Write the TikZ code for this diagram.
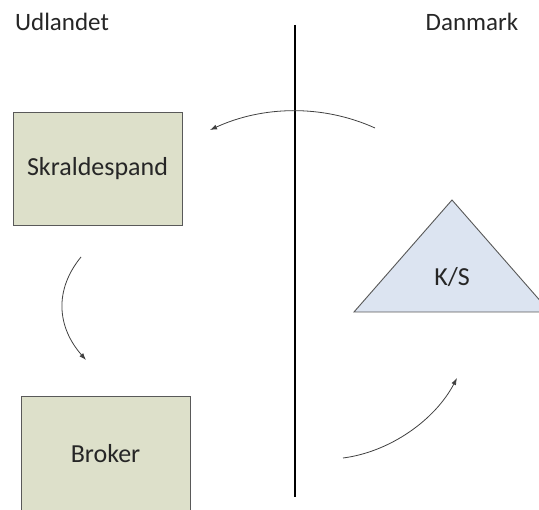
\documentclass[tikz,border=0pt]{standalone}
\usepackage{fontspec}
\setmainfont{Carlito}
\usetikzlibrary{arrows.meta}
\begin{document}
\begin{tikzpicture}[x=1pt,y=-1pt,
  every node/.style={font=\fontsize{26}{30}\selectfont, text=black!85},
  party/.style={draw=black!65, line width=0.9pt, fill=boxfill, minimum width=169pt, inner sep=0pt},
  flow/.style={draw=black!75, line width=0.8pt, -{Latex[length=7pt,width=5pt]}},
  side/.style={font=\fontsize{25}{30}\selectfont}]
\definecolor{boxfill}{HTML}{DDE0CA}
\definecolor{trifill}{HTML}{DCE4F1}
\useasboundingbox (0,0) rectangle (539,510);
\clip (0,0) rectangle (539,510);

% country headings
\node[side] (udl) at (62,22) {Udlandet};
\node[side] (dk) at (472,22) {Danmark};

% border between the two countries
\coordinate (bt) at (295,25);
\coordinate (bb) at (295,497);
\draw[line width=2.4pt] (bt) -- (bb);

% parties abroad
\node[party, minimum height=113pt] (skr) at (97.5,168.5) {Skraldespand};
\node[party, minimum height=116pt] (brk) at (105.5,454) {Broker};

% Danish company
\coordinate (tA) at (452,200);
\coordinate (tL) at (354,312);
\coordinate (tR) at (550,312);
\draw[draw=black!65, line width=0.9pt, fill=trifill] (tA) -- (tL) -- (tR) -- cycle;
\node (ks) at (452,277) {K/S};

% money flow
\coordinate (a1s) at (375,128);
\coordinate (a1e) at (210,130);
\draw[flow] (a1s) .. controls (322,104) and (262,106) .. (a1e);

\coordinate (a2s) at (81,257);
\coordinate (a2e) at (86,360);
\draw[flow] (a2s) .. controls (54,290) and (57,327) .. (a2e);

\coordinate (a3s) at (343,458);
\coordinate (a3e) at (457,378);
\draw[flow] (a3s) .. controls (390,452) and (435,420) .. (a3e);
\end{tikzpicture}
\end{document}
